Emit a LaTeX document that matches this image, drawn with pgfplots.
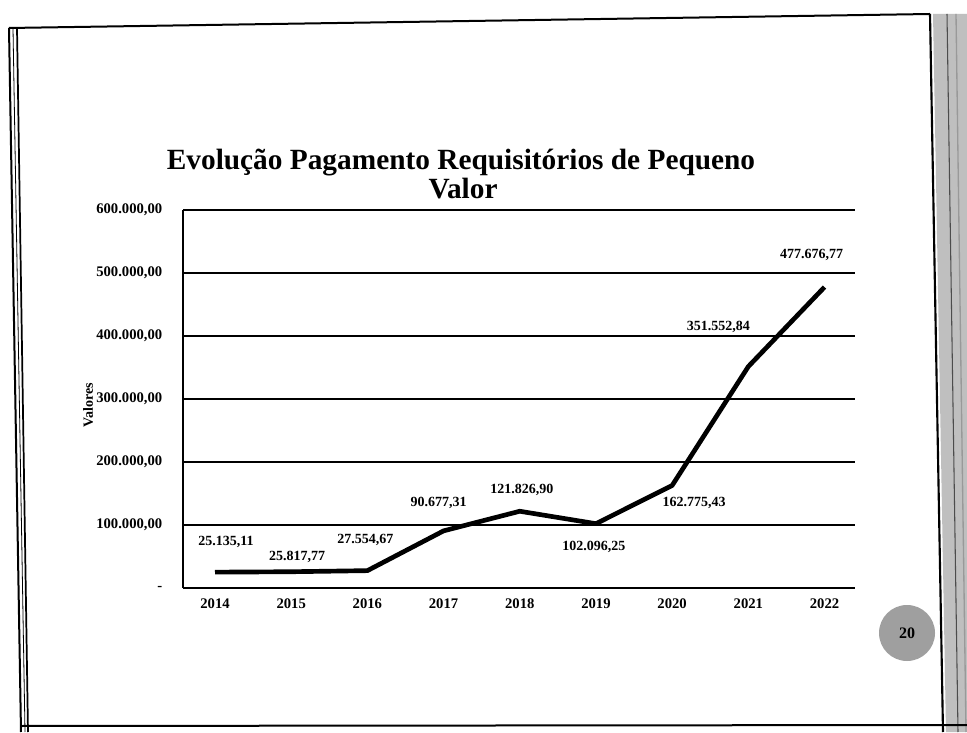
\documentclass[border=0pt]{standalone}
\usepackage{pgfplots}
\pgfplotsset{compat=1.18}
\usepackage{fontspec}
\setmainfont{Liberation Serif}
\pgfplotstableread{
x y lab dx dy
0 25135.11 25.135,11 8.25 22.5
1 25817.77 25.817,77 4.5 11.25
2 27554.67 27.554,67 -1.5 23.25
3 90677.31 90.677,31 -3.75 21
4 121826.90 121.826,90 1.5 15.75
5 102096.25 102.096,25 -1.5 -17.25
6 162775.43 162.775,43 16.5 -12.75
7 351552.84 351.552,84 -22.5 30
8 477676.77 477.676,77 -9.75 24
}\datatable
\begin{document}
\begin{tikzpicture}[x=0.75pt,y=0.75pt]
\path[use as bounding box, fill=white] (0,0) rectangle (967,732);
% slide frame
\fill[gray!50] (933,718)--(967,718)--(967,0)--(946,0)--cycle;
\draw[black!70, line width=0.8pt] (947,718)--(958,0);
\draw[black!40, line width=1pt] (956,718)--(966,0);
\draw[line width=1.6pt] (930,718)--(943,0);
\draw[line width=1.5pt] (9,704)--(930,718);
\draw[line width=1.5pt] (9,704)--(21,0);
\draw[line width=0.6pt] (13,704)--(25,0);
\draw[line width=1.3pt] (17,704)--(28,0);
\draw[line width=1.5pt] (21,6)--(967,7);
\fill[gray!75] (907,99) circle (28);
\node[font=\bfseries\fontsize{12}{14}\selectfont] at (907,99) {20};
% title
\node[anchor=base, font=\bfseries\fontsize{22}{24}\selectfont] at (461,562) {Evolução Pagamento Requisitórios de Pequeno};
\node[anchor=base, font=\bfseries\fontsize{22}{24}\selectfont] at (463,533) {Valor};
\begin{axis}[
  at={(137.25pt,108pt)}, anchor=south west,
  scale only axis, width=504pt, height=283.5pt,
  xmin=-0.42, xmax=8.4, ymin=0, ymax=600000,
  clip=false,
  axis x line*=bottom, axis y line*=left,
  axis line style={line width=1.2pt, -},
  ymajorgrids, grid style={black, line width=1.2pt},
  xtick={0,...,8}, xticklabels={2014,2015,2016,2017,2018,2019,2020,2021,2022},
  ytick={0,100000,200000,300000,400000,500000,600000},
  yticklabels={{-},{100.000,00},{200.000,00},{300.000,00},{400.000,00},{500.000,00},{600.000,00}},
  major tick length=0pt, scaled y ticks=false,
  tick label style={font=\bfseries\fontsize{11}{13}\selectfont},
  yticklabel style={xshift=-12pt},
  xticklabel style={yshift=-4.5pt},
  ylabel={Valores},
  ylabel style={font=\bfseries\fontsize{10.5}{12}\selectfont, at={(axis description cs:-0.141,0.484)}, anchor=center, rotate=0},
]
\addplot[black, line width=3.5pt, line join=round, mark=none,
  nodes near coords, point meta=explicit symbolic,
  visualization depends on={\thisrow{dx}\as\dx},
  visualization depends on={\thisrow{dy}\as\dy},
  every node near coord/.style={anchor=center, xshift=\dx pt, yshift=\dy pt,
    font=\bfseries\fontsize{10.5}{12}\selectfont, text=black}]
  table[x=x, y=y, meta=lab]{\datatable};
\end{axis}
\end{tikzpicture}
\end{document}
